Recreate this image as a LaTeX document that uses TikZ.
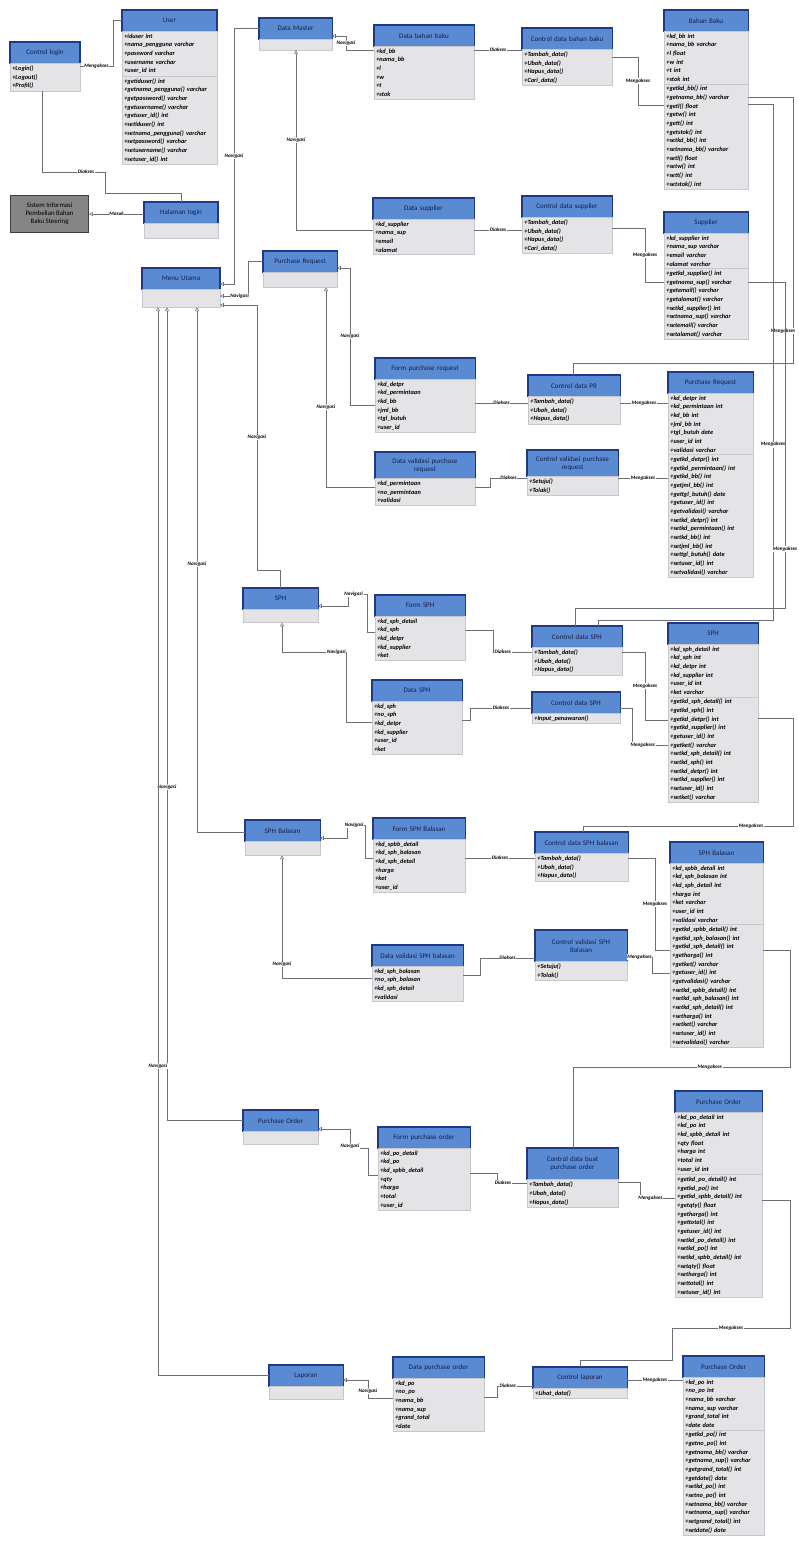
\documentclass[tikz,border=0pt]{standalone}
\usepackage{fontspec}
\setmainfont{Carlito}
\usetikzlibrary{arrows.meta,positioning}
\definecolor{hdrblue}{HTML}{5A8AD2}
\definecolor{hdrline}{HTML}{1E3A86}
\definecolor{hdrtext}{HTML}{14204A}
\definecolor{cmpfill}{HTML}{E4E4E6}
\definecolor{cmpline}{HTML}{C8C8CC}
\definecolor{connline}{HTML}{6E6E78}
\definecolor{sysgray}{HTML}{858585}
\begin{document}
\begin{tikzpicture}[x=0.03cm,y=-0.03cm,
hdr/.style={anchor=north west,text width=#1,align=center,minimum height=0.64cm,inner xsep=2pt,inner ysep=1pt,outer sep=0pt,fill=hdrblue,draw=hdrline,line width=0.9pt,text=hdrtext,font=\fontsize{6}{7}\selectfont},
cmp/.style={text width=#1,align=left,inner xsep=2pt,inner ysep=2pt,outer sep=0pt,fill=cmpfill,draw=cmpline,line width=0.4pt,font=\fontsize{5.4}{7.4}\selectfont\bfseries\itshape},
sysbox/.style={anchor=north west,minimum width=2.34cm,minimum height=1.11cm,align=center,fill=sysgray,draw=black!75,line width=0.9pt,inner sep=1pt,font=\fontsize{5.8}{7}\selectfont},
conn/.style={draw=connline,line width=0.45pt},
nav/.style={conn,arrows={Triangle[open,length=3.2pt,width=3.4pt]-}},
lbl/.style={fill=white,inner sep=0.6pt,font=\fontsize{4.4}{5}\selectfont\bfseries\itshape}]
\path[use as bounding box,fill=white] (0,0) rectangle (798,1546);

% login dan menu
\node[hdr=1.96cm] (ctllog) at (10,42) {Control login};
\node[cmp=1.96cm,below=0pt of ctllog] (ctllogM) {+Login()\\+Logout()\\+Profil()};
\node[hdr=2.71cm] (user) at (122,10) {User};
\node[cmp=2.71cm,below=0pt of user] (userA) {+iduser int\\+nama\_pengguna varchar\\+password varchar\\+username varchar\\+user\_id int};
\node[cmp=2.71cm,below=0pt of userA] (userM) {+getiduser() int\\+getnama\_pengguna() varchar\\+getpassword() varchar\\+getusername() varchar\\+getuser\_id() int\\+setiduser() int\\+setnama\_pengguna() varchar\\+setpassword() varchar\\+setusername() varchar\\+setuser\_id() int};
\node[sysbox] (sistem) at (10,195) {Sistem Informasi\\Pembelian Bahan\\Baku Steering};
\node[hdr=2.08cm] (hallog) at (144,202) {Halaman login};
\node[cmp=2.08cm,minimum height=0.45cm,below=0pt of hallog] (hallogB) {};
\node[hdr=2.20cm] (menu) at (142,268) {Menu Utama};
\node[cmp=2.20cm,minimum height=0.54cm,below=0pt of menu] (menuB) {};

% data master
\node[hdr=2.05cm] (dmaster) at (259,18) {Data Master};
\node[cmp=2.05cm,minimum height=0.32cm,below=0pt of dmaster] (dmasterB) {};
\node[hdr=2.86cm] (dbb) at (374,25) {Data bahan baku};
\node[cmp=2.86cm,below=0pt of dbb] (dbbA) {+kd\_bb\\+nama\_bb\\+l\\+w\\+t\\+stok};
\node[hdr=2.56cm] (cdbb) at (522,28) {Control data bahan baku};
\node[cmp=2.56cm,below=0pt of cdbb] (cdbbM) {+Tambah\_data()\\+Ubah\_data()\\+Hapus\_data()\\+Cari\_data()};
\node[hdr=2.38cm] (bb) at (664,10) {Bahan Baku};
\node[cmp=2.38cm,below=0pt of bb] (bbA) {+kd\_bb int\\+nama\_bb varchar\\+l float\\+w int\\+t int\\+stok int};
\node[cmp=2.38cm,below=0pt of bbA] (bbM) {+getkd\_bb() int\\+getnama\_bb() varchar\\+getl() float\\+getw() int\\+gett() int\\+getstok() int\\+setkd\_bb() int\\+setnama\_bb() varchar\\+setl() float\\+setw() int\\+sett() int\\+setstok() int};
\node[hdr=2.89cm] (dsup) at (373,198) {Data supplier};
\node[cmp=2.89cm,below=0pt of dsup] (dsupA) {+kd\_supplier\\+nama\_sup\\+email\\+alamat};
\node[hdr=2.56cm] (cdsup) at (522,196) {Control data supplier};
\node[cmp=2.56cm,below=0pt of cdsup] (cdsupM) {+Tambah\_data()\\+Ubah\_data()\\+Hapus\_data()\\+Cari\_data()};
\node[hdr=2.38cm] (sup) at (664,212) {Supplier};
\node[cmp=2.38cm,below=0pt of sup] (supA) {+kd\_supplier int\\+nama\_sup varchar\\+email varchar\\+alamat varchar};
\node[cmp=2.38cm,below=0pt of supA] (supM) {+getkd\_supplier() int\\+getnama\_sup() varchar\\+getemail() varchar\\+getalamat() varchar\\+setkd\_supplier() int\\+setnama\_sup() varchar\\+setemail() varchar\\+setalamat() varchar};

% purchase request
\node[hdr=2.08cm] (pr) at (263,251) {Purchase Request};
\node[cmp=2.08cm,minimum height=0.45cm,below=0pt of pr] (prB) {};
\node[hdr=2.86cm] (fpr) at (375,358) {Form purchase request};
\node[cmp=2.86cm,below=0pt of fpr] (fprA) {+kd\_detpr\\+kd\_permintaan\\+kd\_bb\\+jml\_bb\\+tgl\_butuh\\+user\_id};
\node[hdr=2.86cm,minimum height=0.8cm] (dvpr) at (375,452) {Data validasi purchase\\request};
\node[cmp=2.86cm,below=0pt of dvpr] (dvprA) {+kd\_permintaan\\+no\_permintaan\\+validasi};
\node[hdr=2.62cm] (cdpr) at (528,375) {Control data PR};
\node[cmp=2.62cm,below=0pt of cdpr] (cdprM) {+Tambah\_data()\\+Ubah\_data()\\+Hapus\_data()};
\node[hdr=2.59cm,minimum height=0.8cm] (cvpr) at (527,450) {Control validasi purchase\\request};
\node[cmp=2.59cm,below=0pt of cvpr] (cvprM) {+Setuju()\\+Tolak()};
\node[hdr=2.41cm] (prent) at (668,372) {Purchase Request};
\node[cmp=2.41cm,below=0pt of prent] (prentA) {+kd\_detpr int\\+kd\_permintaan int\\+kd\_bb int\\+jml\_bb int\\+tgl\_butuh date\\+user\_id int\\+validasi varchar};
\node[cmp=2.41cm,below=0pt of prentA] (prentM) {+getkd\_detpr() int\\+getkd\_permintaan() int\\+getkd\_bb() int\\+getjml\_bb() int\\+gettgl\_butuh() date\\+getuser\_id() int\\+getvalidasi() varchar\\+setkd\_detpr() int\\+setkd\_permintaan() int\\+setkd\_bb() int\\+setjml\_bb() int\\+settgl\_butuh() date\\+setuser\_id() int\\+setvalidasi() varchar};

% sph
\node[hdr=2.11cm] (sph) at (243,588) {SPH};
\node[cmp=2.11cm,minimum height=0.4cm,below=0pt of sph] (sphB) {};
\node[hdr=2.56cm] (fsph) at (375,595) {Form SPH};
\node[cmp=2.56cm,below=0pt of fsph] (fsphA) {+kd\_sph\_detail\\+kd\_sph\\+kd\_detpr\\+kd\_supplier\\+ket};
\node[hdr=2.56cm] (dsph) at (372,680) {Data SPH};
\node[cmp=2.56cm,below=0pt of dsph] (dsphA) {+kd\_sph\\+no\_sph\\+kd\_detpr\\+kd\_supplier\\+user\_id\\+ket};
\node[hdr=2.56cm] (cdsph) at (532,626) {Control data SPH};
\node[cmp=2.56cm,below=0pt of cdsph] (cdsphM) {+Tambah\_data()\\+Ubah\_data()\\+Hapus\_data()};
\node[hdr=2.50cm] (cdsphb2) at (532,692) {Control data SPH};
\node[cmp=2.50cm,below=0pt of cdsphb2] (cdsphb2M) {+Input\_penawaran()};
\node[hdr=2.56cm] (sphent) at (668,623) {SPH};
\node[cmp=2.56cm,below=0pt of sphent] (sphentA) {+kd\_sph\_detail int\\+kd\_sph int\\+kd\_detpr int\\+kd\_supplier int\\+user\_id int\\+ket varchar};
\node[cmp=2.56cm,below=0pt of sphentA] (sphentM) {+getkd\_sph\_detail() int\\+getkd\_sph() int\\+getkd\_detpr() int\\+getkd\_supplier() int\\+getuser\_id() int\\+getket() varchar\\+setkd\_sph\_detail() int\\+setkd\_sph() int\\+setkd\_detpr() int\\+setkd\_supplier() int\\+setuser\_id() int\\+setket() varchar};

% sph balasan
\node[hdr=2.11cm] (sphb) at (245,820) {SPH Balasan};
\node[cmp=2.11cm,minimum height=0.42cm,below=0pt of sphb] (sphbB) {};
\node[hdr=2.62cm] (fsphb) at (373,818) {Form SPH Balasan};
\node[cmp=2.62cm,below=0pt of fsphb] (fsphbA) {+kd\_spbb\_detail\\+kd\_sph\_balasan\\+kd\_sph\_detail\\+harga\\+ket\\+user\_id};
\node[hdr=2.59cm] (dvsphb) at (372,945) {Data validasi SPH balasan};
\node[cmp=2.59cm,below=0pt of dvsphb] (dvsphbA) {+kd\_sph\_balasan\\+no\_sph\_balasan\\+kd\_sph\_detail\\+validasi};
\node[hdr=2.65cm] (cdsphb) at (535,832) {Control data SPH balasan};
\node[cmp=2.65cm,below=0pt of cdsphb] (cdsphbM) {+Tambah\_data()\\+Ubah\_data()\\+Hapus\_data()};
\node[hdr=2.62cm,minimum height=0.95cm] (cvsphb) at (535,930) {Control validasi SPH\\Balasan};
\node[cmp=2.62cm,below=0pt of cvsphb] (cvsphbM) {+Setuju()\\+Tolak()};
\node[hdr=2.65cm] (sphbent) at (670,842) {SPH Balasan};
\node[cmp=2.65cm,below=0pt of sphbent] (sphbentA) {+kd\_spbb\_detail int\\+kd\_sph\_balasan int\\+kd\_sph\_detail int\\+harga int\\+ket varchar\\+user\_id int\\+validasi varchar};
\node[cmp=2.65cm,below=0pt of sphbentA] (sphbentM) {+getkd\_spbb\_detail() int\\+getkd\_sph\_balasan() int\\+getkd\_sph\_detail() int\\+getharga() int\\+getket() varchar\\+getuser\_id() int\\+getvalidasi() varchar\\+setkd\_spbb\_detail() int\\+setkd\_sph\_balasan() int\\+setkd\_sph\_detail() int\\+setharga() int\\+setket() varchar\\+setuser\_id() int\\+setvalidasi() varchar};

% purchase order
\node[hdr=2.11cm] (po) at (243,1110) {Purchase Order};
\node[cmp=2.11cm,minimum height=0.4cm,below=0pt of po] (poB) {};
\node[hdr=2.62cm] (fpo) at (378,1127) {Form purchase order};
\node[cmp=2.62cm,below=0pt of fpo] (fpoA) {+kd\_po\_detail\\+kd\_po\\+kd\_spbb\_detail\\+qty\\+harga\\+total\\+user\_id};
\node[hdr=2.59cm,minimum height=0.95cm] (cdbpo) at (527,1148) {Control data buat\\purchase order};
\node[cmp=2.59cm,below=0pt of cdbpo] (cdbpoM) {+Tambah\_data()\\+Ubah\_data()\\+Hapus\_data()};
\node[hdr=2.47cm] (poent) at (675,1091) {Purchase Order};
\node[cmp=2.47cm,below=0pt of poent] (poentA) {+kd\_po\_detail int\\+kd\_po int\\+kd\_spbb\_detail int\\+qty float\\+harga int\\+total int\\+user\_id int};
\node[cmp=2.47cm,below=0pt of poentA] (poentM) {+getkd\_po\_detail() int\\+getkd\_po() int\\+getkd\_spbb\_detail() int\\+getqty() float\\+getharga() int\\+gettotal() int\\+getuser\_id() int\\+setkd\_po\_detail() int\\+setkd\_po() int\\+setkd\_spbb\_detail() int\\+setqty() float\\+setharga() int\\+settotal() int\\+setuser\_id() int};

% laporan
\node[hdr=2.08cm] (lap) at (269,1365) {Laporan};
\node[cmp=2.08cm,minimum height=0.4cm,below=0pt of lap] (lapB) {};
\node[hdr=2.59cm] (dpo) at (393,1357) {Data purchase order};
\node[cmp=2.59cm,below=0pt of dpo] (dpoA) {+kd\_po\\+no\_po\\+nama\_bb\\+nama\_sup\\+grand\_total\\+date};
\node[hdr=2.68cm] (clap) at (533,1367) {Control laporan};
\node[cmp=2.68cm,below=0pt of clap] (clapM) {+Lihat\_data()};
\node[hdr=2.29cm] (poentb) at (683,1356) {Purchase Order};
\node[cmp=2.29cm,below=0pt of poentb] (poentbA) {+kd\_po int\\+no\_po int\\+nama\_bb varchar\\+nama\_sup varchar\\+grand\_total int\\+date date};
\node[cmp=2.29cm,below=0pt of poentbA] (poentbM) {+getkd\_po() int\\+getno\_po() int\\+getnama\_bb() varchar\\+getnama\_sup() varchar\\+getgrand\_total() int\\+getdate() date\\+setkd\_po() int\\+setno\_po() int\\+setnama\_bb() varchar\\+setnama\_sup() varchar\\+setgrand\_total() int\\+setdate() date};

% relasi login
\draw[conn] (ctllogM.east |- 0,66) -- node[lbl]{Mengakses} (113,66) |- (user.west);
\draw[conn] (42,0 |- ctllogM.south) -- (42,172) -- node[lbl,pos=0.7]{Diakses} (105,172) -- (105,193) -| (hallog.north);
\draw[nav] (sistem.east) -- node[lbl]{Masuk} (sistem.east -| hallog.west);

% navigasi menu utama
\draw[nav] (menu.east |- 0,284) -- (234,284) -- node[lbl]{Navigasi} (234,0 |- dmaster.west) -- (dmaster.west);
\draw[nav] (menu.east |- 0,296) -- node[lbl,pos=0.7]{Navigasi} (248,296) -- (248,0 |- pr.west) -- (pr.west);
\draw[nav] (menu.east |- 0,305) -- (257,305) -- node[lbl]{Navigasi} (257,570) -| (sph.north);
\draw[nav] (197,0 |- menuB.south) -- node[lbl,pos=0.49]{Navigasi} (197,832) -- (sphb.west |- 0,832);
\draw[nav] (167,0 |- menuB.south) -- node[lbl,pos=0.59]{Navigasi} (167,0 |- po.west) -- (po.west);
\draw[nav] (158,0 |- menuB.south) -- node[lbl,pos=0.71]{Navigasi} (158,0 |- lap.west) -- (lap.west);

% data master
\draw[nav] (dmaster.east |- 0,36) -- (346,36) -- node[lbl]{Navigasi} (346,50) -- (dbbA.west |- 0,50);
\draw[nav] (296,0 |- dmasterB.south) -- node[lbl]{Navigasi} (296,230) -- (dsupA.west |- 0,230);
\draw[conn] (dbbA.east |- 0,50) -- node[lbl]{Diakses} (cdbbM.west |- 0,50);
\draw[conn] (cdbbM.east |- 0,57) -- (638,57) -- node[lbl]{Mengakses} (638,105) -- (bbM.west |- 0,105);
\draw[conn] (dsupA.east |- 0,230) -- node[lbl]{Diakses} (cdsupM.west |- 0,230);
\draw[conn] (cdsupM.east |- 0,228) -- (645,228) -- node[lbl]{Mengakses} (645,282) -- (supM.west |- 0,282);
\draw[conn] (bbM.east |- 0,97) -- (793,97) -- node[lbl,pos=0.88,xshift=-0.3cm]{Mengakses} (793,363) -- (573,363) -- (573,0 |- cdpr.north);
\draw[conn] (bbM.east |- 0,104) -- (773,104) -- node[lbl,pos=0.66]{Mengakses} (773,620) -- (598,620) -- (598,0 |- cdsph.north);
\draw[conn] (supM.east |- 0,282) -- (785,282) -- node[lbl,pos=0.82]{Mengakses} (785,608) -- (575,608) -- (575,0 |- cdsph.north);

% purchase request
\draw[nav] (pr.east |- 0,268) -- (350,268) -- node[lbl]{Navigasi} (350,405) -- (fprA.west |- 0,405);
\draw[nav] (326,0 |- prB.south) -- node[lbl,pos=0.6]{Navigasi} (326,487) -- (dvprA.west |- 0,487);
\draw[conn] (fprA.east |- 0,403) -- node[lbl]{Diakses} (cdprM.west |- 0,403);
\draw[conn] (cdprM.east |- 0,403) -- node[lbl]{Mengakses} (prentA.west |- 0,403);
\draw[conn] (dvprA.east |- 0,487) -- (490,487) -- (490,478) -- node[lbl]{Diakses} (cvprM.west |- 0,478);
\draw[conn] (cvprM.east |- 0,478) -- node[lbl]{Mengakses} (prentM.west |- 0,478);

% sph
\draw[nav] (sph.east |- 0,606) -- (348,606) -- (348,594) -- node[lbl,pos=0.3]{Navigasi} (367,594) -- (367,632) -- (fsphA.west |- 0,632);
\draw[nav] (282,0 |- sphB.south) -- (282,652) -- node[lbl,pos=0.85]{Navigasi} (346,652) -- (346,722) -- (dsphA.west |- 0,722);
\draw[conn] (fsphA.east |- 0,630) -- (493,630) -- (493,652) -- node[lbl,pos=0.25]{Diakses} (cdsphM.west |- 0,652);
\draw[conn] (dsphA.east |- 0,720) -- (470,720) -- (470,708) -- node[lbl]{Diakses} (cdsphb2.west |- 0,708);
\draw[conn] (cdsphM.east |- 0,652) -- (645,652) -- node[lbl]{Mengakses} (645,720) -- (sphentM.west |- 0,720);
\draw[conn] (cdsphb2.east |- 0,708) -- (632,708) -- (632,745) -- node[lbl,pos=0.3]{Mengakses} (sphentM.west |- 0,745);
\draw[conn] (sphentM.east |- 0,718) -- (793,718) -- (793,826) -- node[lbl,pos=0.2]{Mengakses} (583,826) -- (583,0 |- cdsphb.north);

% sph balasan
\draw[nav] (sphb.east |- 0,838) -- (347,838) -- (347,825) -- node[lbl,pos=0.4]{Navigasi} (365,825) -- (365,858) -- (fsphbA.west |- 0,858);
\draw[nav] (282,0 |- sphbB.south) -- node[lbl,pos=0.89]{Navigasi} (282,978) -- (dvsphbA.west |- 0,978);
\draw[conn] (fsphbA.east |- 0,858) -- node[lbl]{Diakses} (cdsphbM.west |- 0,858);
\draw[conn] (dvsphbA.east |- 0,975) -- (480,975) -- (480,958) -- node[lbl]{Diakses} (cvsphb.west |- 0,958);
\draw[conn] (cdsphbM.east |- 0,858) -- (655,858) -- node[lbl]{Mengakses} (655,950) -- (sphbentM.west |- 0,950);
\draw[conn] (cvsphb.east |- 0,957) -- node[lbl]{Mengakses} (652,957) -- (652,973) -- (sphbentM.west |- 0,973);
\draw[conn] (sphbentM.east |- 0,950) -- (790,950) -- (790,1067) -- node[lbl,pos=0.37]{Mengakses} (573,1067) -- (573,0 |- cdbpo.north);

% purchase order
\draw[nav] (po.east |- 0,1129) -- (350,1129) -- node[lbl,pos=0.9]{Navigasi} (350,1148) -- (368,1148) -- (368,1175) -- (fpoA.west |- 0,1175);
\draw[conn] (fpoA.east |- 0,1173) -- (497,1173) -- (497,1183) -- node[lbl,pos=0.2]{Diakses} (cdbpoM.west |- 0,1183);
\draw[conn] (cdbpoM.east |- 0,1182) -- (640,1182) -- (640,1198) -- node[lbl,pos=0.3]{Mengakses} (poentM.west |- 0,1198);
\draw[conn] (poentM.east |- 0,1200) -- (790,1200) -- (790,1328) -- node[lbl]{Mengakses} (672,1328) -- (672,1360) -- (580,1360) -- (580,0 |- clap.north);

% laporan
\draw[nav] (lap.east |- 0,1380) -- (368,1380) -- node[lbl,pos=0.6]{Navigasi} (368,1398) -- (dpoA.west |- 0,1398);
\draw[conn] (dpoA.east |- 0,1397) -- (497,1397) -- (497,1386) -- node[lbl,pos=0.3]{Diakses} (clap.west |- 0,1386);
\draw[conn] (clap.east |- 0,1380) -- node[lbl]{Mengakses} (poentb.west |- 0,1380);
\end{tikzpicture}
\end{document}
